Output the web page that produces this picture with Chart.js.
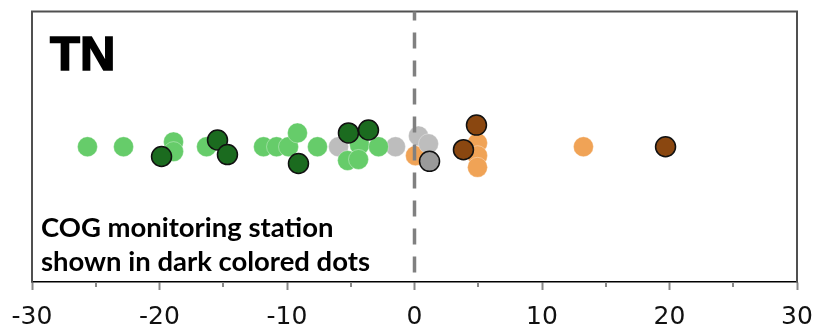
<!DOCTYPE html>
<html>
<head>
<meta charset="utf-8">
<script src="https://cdn.jsdelivr.net/npm/chart.js@4/dist/chart.umd.min.js"></script>
<style>
  html, body { margin: 0; padding: 0; background: #fff; }
  #wrap { width: 819px; height: 332px; position: relative; }
</style>
</head>
<body>
<div id="wrap"><canvas id="c" width="819" height="332"></canvas></div>
<script>
// ---- data (x = value, y = beeswarm offset, centred on 5) ----
const xTicks = [-30, -20, -10, 0, 10, 20, 30];
const minorTicks = [-25, -15, -5, 5, 15, 25];

const lightGreenX = [-25.65, -22.82, -18.9, -18.9, -16.31, -11.84, -10.82, -9.88, -9.18, -7.61, -4.31, -5.25, -4.39, -2.82];
const lightGreenY = [5, 5, 5.18, 4.82, 5, 5, 5, 5, 5.51, 5, 5.07, 4.49, 4.53, 5];

const darkGreenX = [-19.84, -15.45, -14.67, -9.1, -5.18, -3.61];
const darkGreenY = [4.64, 5.25, 4.71, 4.38, 5.51, 5.62];

const grayX = [-5.96, -1.49, 0.31, 1.1];
const grayY = [5, 5, 5.4, 5.11];

const orangeX = [0.08, 4.94, 4.94, 4.94, 13.25];
const orangeY = [4.67, 5.14, 4.67, 4.24, 5];

const brownX = [4.86, 3.84, 19.69];
const brownY = [5.8, 4.89, 5];

const darkGrayX = [1.18];
const darkGrayY = [4.46];

const titleText = 'TN';
const noteLines = ['COG monitoring station', 'shown in dark colored dots'];

function pts(xs, ys) { return xs.map((x, i) => ({ x: x, y: ys[i] })); }

function lightSet(label, xs, ys, color) {
  return { label, data: pts(xs, ys), backgroundColor: color,
    borderColor: 'rgba(255,255,255,0.35)', borderWidth: 1, pointRadius: 10, order: 2 };
}
function darkSet(label, xs, ys, color) {
  return { label, data: pts(xs, ys), backgroundColor: color,
    borderColor: '#111', borderWidth: 1.5, pointRadius: 10, order: 1 };
}

const decorPlugin = {
  id: 'decor',
  beforeDatasetsDraw(chart) {
    const { ctx, chartArea: a } = chart;
    ctx.save();
    // frame (left, top, right)
    ctx.strokeStyle = '#505050';
    ctx.lineWidth = 2;
    ctx.beginPath();
    ctx.moveTo(a.left, a.bottom);
    ctx.lineTo(a.left, a.top);
    ctx.lineTo(a.right, a.top);
    ctx.lineTo(a.right, a.bottom);
    ctx.stroke();
    // title
    ctx.fillStyle = '#000';
    ctx.strokeStyle = '#000';
    ctx.lineWidth = 1.6;
    ctx.lineJoin = 'miter';
    ctx.font = 'bold 49px "Liberation Sans", Arial, sans-serif';
    ctx.textBaseline = 'alphabetic';
    ctx.textAlign = 'left';
    ctx.fillText(titleText, a.left + 18, a.top + 58);
    ctx.strokeText(titleText, a.left + 18, a.top + 58);
    // note
    let size = 24;
    ctx.font = 'bold ' + size + 'px Lato, "Open Sans", sans-serif';
    const w = ctx.measureText(noteLines[1]).width;
    size = size * 329 / w;
    ctx.font = 'bold ' + size.toFixed(2) + 'px Lato, "Open Sans", sans-serif';
    ctx.fillText(noteLines[0], a.left + 9, a.bottom - 45);
    ctx.fillText(noteLines[1], a.left + 9, a.bottom - 11);
    // minor ticks
    const xs = chart.scales.x;
    ctx.strokeStyle = '#888';
    ctx.lineWidth = 2;
    minorTicks.forEach(v => {
      const px = Math.round(xs.getPixelForValue(v));
      ctx.beginPath();
      ctx.moveTo(px, a.bottom);
      ctx.lineTo(px, a.bottom + 5);
      ctx.stroke();
    });
    ctx.restore();
  },
  afterDatasetsDraw(chart) {
    const { ctx, chartArea: a } = chart;
    const px = chart.scales.x.getPixelForValue(0);
    ctx.save();
    ctx.strokeStyle = '#808080';
    ctx.lineWidth = 3.5;
    ctx.setLineDash([16, 12]);
    ctx.lineDashOffset = 7;
    ctx.beginPath();
    ctx.moveTo(px, a.top);
    ctx.lineTo(px, a.bottom);
    ctx.stroke();
    ctx.restore();
  }
};

new Chart(document.getElementById('c'), {
  type: 'scatter',
  data: {
    datasets: [
      darkSet('Dark green', darkGreenX, darkGreenY, '#1b6b1f'),
      darkSet('Dark brown', brownX, brownY, '#8a4710'),
      darkSet('Dark gray', darkGrayX, darkGrayY, '#9a9a9a'),
      lightSet('Light green', lightGreenX, lightGreenY, '#66cc6a'),
      lightSet('Light gray', grayX, grayY, '#bdbdbd'),
      lightSet('Orange', orangeX, orangeY, '#f0a356')
    ]
  },
  options: {
    responsive: false,
    animation: false,
    events: [],
    layout: { padding: { left: 32, right: 22, top: 6, bottom: 0 } },
    plugins: { legend: { display: false }, tooltip: { enabled: false } },
    scales: {
      x: {
        type: 'linear',
        min: -30, max: 30,
        afterBuildTicks(scale) { scale.ticks = xTicks.map(v => ({ value: v })); },
        afterFit(scale) { scale.height = 50; scale.paddingLeft = 0; scale.paddingRight = 0; },
        border: { display: true, color: '#000', width: 1.5 },
        grid: { display: true, drawOnChartArea: false, drawTicks: true, tickLength: 8, tickColor: '#888', tickWidth: 2 },
        ticks: { color: '#111', padding: 12, font: { family: '"DejaVu Sans", sans-serif', size: 25 } }
      },
      y: { type: 'linear', min: 0, max: 10, display: false }
    }
  },
  plugins: [decorPlugin]
});
</script>
</body>
</html>
